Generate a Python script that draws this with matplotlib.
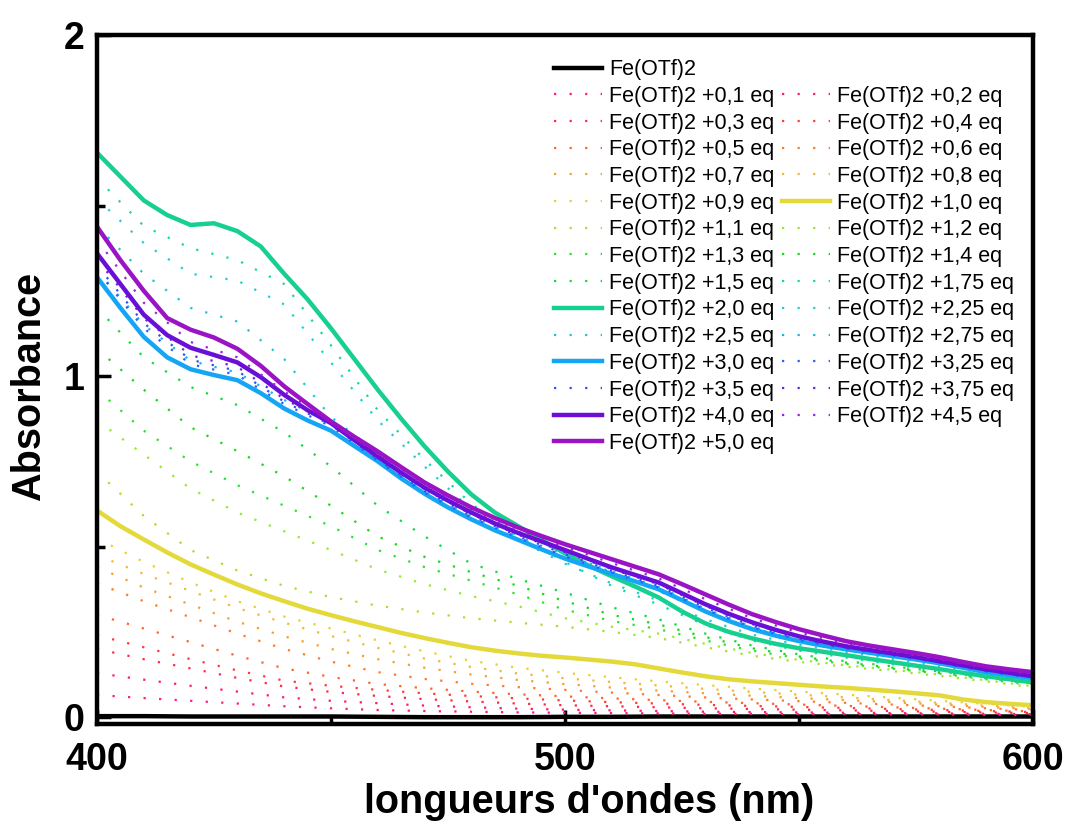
import matplotlib
matplotlib.use("Agg")
import matplotlib.pyplot as plt
from matplotlib.lines import Line2D

plt.rcParams['font.family'] = ['Liberation Sans', 'DejaVu Sans']

# wavelengths (nm): 10 nm grid for dotted series, 5 nm grid for the solid ones
wl = [400, 410, 420, 430, 440, 450, 460, 470, 480, 490, 500,
      510, 520, 530, 540, 550, 560, 570, 580, 590, 600]
wl5 = [400, 405, 410, 415, 420, 425, 430, 435, 440, 445, 450, 455, 460, 465,
       470, 475, 480, 485, 490, 495, 500, 505, 510, 515, 520, 525, 530, 535,
       540, 545, 550, 555, 560, 565, 570, 575, 580, 585, 590, 595, 600]

# absorbance per titration point
a_fe = [0.003, 0.003, 0.002, 0.002, 0.002, 0.002, 0.001, 0.000, 0.000, 0.000, 0.001,
        0.001, 0.002, 0.002, 0.002, 0.002, 0.002, 0.002, 0.002, 0.002, 0.002]
a_01 = [0.065, 0.056, 0.048, 0.040, 0.032, 0.026, 0.021, 0.018, 0.016, 0.014, 0.013,
        0.012, 0.011, 0.010, 0.010, 0.009, 0.009, 0.008, 0.008, 0.007, 0.007]
a_02 = [0.129, 0.110, 0.092, 0.075, 0.058, 0.048, 0.041, 0.034, 0.029, 0.025, 0.022,
        0.020, 0.018, 0.016, 0.015, 0.014, 0.013, 0.012, 0.011, 0.010, 0.009]
a_03 = [0.200, 0.170, 0.143, 0.115, 0.090, 0.074, 0.062, 0.053, 0.046, 0.040, 0.035,
        0.032, 0.029, 0.026, 0.024, 0.022, 0.020, 0.018, 0.016, 0.014, 0.012]
a_04 = [0.240, 0.205, 0.170, 0.137, 0.107, 0.092, 0.080, 0.070, 0.062, 0.055, 0.049,
        0.044, 0.040, 0.036, 0.033, 0.030, 0.027, 0.024, 0.021, 0.018, 0.015]
a_05 = [0.300, 0.260, 0.220, 0.180, 0.143, 0.118, 0.097, 0.085, 0.075, 0.067, 0.061,
        0.055, 0.050, 0.045, 0.041, 0.037, 0.033, 0.029, 0.025, 0.021, 0.017]
a_06 = [0.392, 0.340, 0.293, 0.245, 0.200, 0.163, 0.132, 0.112, 0.098, 0.088, 0.080,
        0.072, 0.065, 0.058, 0.052, 0.047, 0.042, 0.037, 0.032, 0.026, 0.021]
a_07 = [0.440, 0.380, 0.330, 0.280, 0.237, 0.200, 0.170, 0.145, 0.125, 0.109, 0.097,
        0.087, 0.078, 0.070, 0.063, 0.056, 0.050, 0.044, 0.037, 0.030, 0.024]
a_08 = [0.475, 0.420, 0.370, 0.320, 0.277, 0.238, 0.203, 0.172, 0.147, 0.128, 0.114,
        0.103, 0.093, 0.083, 0.074, 0.066, 0.058, 0.050, 0.042, 0.034, 0.027]
a_09 = [0.524, 0.455, 0.395, 0.340, 0.295, 0.260, 0.225, 0.193, 0.165, 0.145, 0.130,
        0.117, 0.105, 0.094, 0.084, 0.075, 0.066, 0.057, 0.048, 0.039, 0.030]
a_10 = [0.606, 0.560, 0.521, 0.483, 0.448, 0.418, 0.389, 0.363, 0.340, 0.318, 0.299,
        0.281, 0.264, 0.247, 0.232, 0.218, 0.205, 0.195, 0.187, 0.180, 0.175,
        0.169, 0.163, 0.155, 0.143, 0.131, 0.120, 0.111, 0.105, 0.100, 0.095,
        0.090, 0.086, 0.081, 0.076, 0.070, 0.064, 0.052, 0.044, 0.039, 0.035]
a_11 = [0.720, 0.590, 0.490, 0.430, 0.385, 0.352, 0.327, 0.307, 0.290, 0.277, 0.265,
        0.250, 0.232, 0.205, 0.180, 0.162, 0.148, 0.135, 0.121, 0.105, 0.088]
a_12 = [0.870, 0.770, 0.670, 0.600, 0.545, 0.490, 0.433, 0.390, 0.355, 0.325, 0.290,
        0.265, 0.245, 0.215, 0.188, 0.168, 0.152, 0.139, 0.125, 0.108, 0.091]
a_13 = [0.960, 0.840, 0.750, 0.680, 0.620, 0.560, 0.490, 0.440, 0.400, 0.360, 0.315,
        0.282, 0.258, 0.225, 0.195, 0.173, 0.156, 0.142, 0.128, 0.111, 0.094]
a_14 = [1.080, 0.960, 0.850, 0.780, 0.706, 0.620, 0.530, 0.470, 0.425, 0.385, 0.340,
        0.300, 0.272, 0.235, 0.202, 0.178, 0.160, 0.145, 0.130, 0.114, 0.097]
a_15 = [1.200, 1.055, 0.968, 0.915, 0.835, 0.735, 0.620, 0.530, 0.450, 0.405, 0.365,
        0.322, 0.287, 0.245, 0.210, 0.184, 0.164, 0.149, 0.134, 0.117, 0.100]
a_175 = [1.580, 1.440, 1.375, 1.340, 1.270, 1.090, 0.900, 0.755, 0.625, 0.530, 0.455,
         0.385, 0.330, 0.270, 0.225, 0.195, 0.175, 0.155, 0.135, 0.115, 0.098]
a_20 = [1.655, 1.585, 1.515, 1.472, 1.443, 1.448, 1.425, 1.380, 1.300, 1.225, 1.140,
        1.050, 0.960, 0.875, 0.794, 0.720, 0.653, 0.600, 0.560, 0.520, 0.480,
        0.445, 0.413, 0.383, 0.351, 0.310, 0.275, 0.250, 0.231, 0.215, 0.202,
        0.192, 0.182, 0.171, 0.161, 0.151, 0.141, 0.130, 0.120, 0.111, 0.102]
a_225 = [1.520, 1.390, 1.300, 1.280, 1.210, 1.040, 0.870, 0.735, 0.608, 0.520, 0.450,
         0.392, 0.342, 0.287, 0.242, 0.212, 0.191, 0.171, 0.149, 0.126, 0.107]
a_25 = [1.440, 1.300, 1.200, 1.160, 1.050, 0.880, 0.775, 0.690, 0.612, 0.545, 0.480,
        0.425, 0.370, 0.310, 0.262, 0.225, 0.200, 0.180, 0.158, 0.133, 0.112]
a_275 = [1.310, 1.150, 1.045, 1.010, 0.930, 0.862, 0.758, 0.663, 0.590, 0.530, 0.475,
         0.428, 0.382, 0.318, 0.265, 0.229, 0.204, 0.183, 0.161, 0.135, 0.116]
a_30 = [1.290, 1.200, 1.115, 1.055, 1.020, 1.003, 0.988, 0.950, 0.905, 0.870, 0.840,
        0.795, 0.750, 0.700, 0.655, 0.615, 0.580, 0.548, 0.520, 0.492, 0.465,
        0.442, 0.420, 0.398, 0.375, 0.343, 0.310, 0.282, 0.258, 0.239, 0.223,
        0.210, 0.199, 0.189, 0.179, 0.169, 0.158, 0.145, 0.132, 0.123, 0.114]
a_325 = [1.310, 1.140, 1.035, 1.003, 0.918, 0.853, 0.752, 0.658, 0.585, 0.526, 0.471,
         0.424, 0.380, 0.315, 0.263, 0.226, 0.201, 0.181, 0.160, 0.134, 0.115]
a_35 = [1.325, 1.155, 1.048, 1.015, 0.925, 0.857, 0.756, 0.663, 0.590, 0.531, 0.478,
        0.429, 0.385, 0.321, 0.268, 0.230, 0.203, 0.183, 0.161, 0.136, 0.117]
a_375 = [1.343, 1.170, 1.061, 1.027, 0.933, 0.861, 0.760, 0.668, 0.595, 0.535, 0.484,
         0.434, 0.390, 0.326, 0.273, 0.234, 0.206, 0.185, 0.163, 0.138, 0.118]
a_40 = [1.360, 1.270, 1.180, 1.120, 1.083, 1.062, 1.040, 0.997, 0.945, 0.900, 0.862,
        0.812, 0.764, 0.717, 0.673, 0.635, 0.600, 0.568, 0.540, 0.515, 0.490,
        0.464, 0.439, 0.417, 0.395, 0.363, 0.331, 0.303, 0.278, 0.256, 0.237,
        0.222, 0.208, 0.197, 0.187, 0.176, 0.164, 0.152, 0.140, 0.130, 0.120]
a_45 = [1.400, 1.215, 1.100, 1.055, 0.955, 0.866, 0.772, 0.681, 0.608, 0.548, 0.499,
        0.452, 0.407, 0.346, 0.290, 0.248, 0.216, 0.193, 0.170, 0.145, 0.126]
a_50 = [1.438, 1.340, 1.250, 1.170, 1.136, 1.113, 1.080, 1.030, 0.970, 0.918, 0.867,
        0.822, 0.779, 0.733, 0.688, 0.650, 0.615, 0.584, 0.556, 0.531, 0.507,
        0.485, 0.463, 0.441, 0.419, 0.390, 0.360, 0.330, 0.302, 0.279, 0.258,
        0.240, 0.223, 0.210, 0.199, 0.188, 0.176, 0.162, 0.149, 0.140, 0.132]

eqs = ["", "0,1", "0,2", "0,3", "0,4", "0,5", "0,6", "0,7", "0,8", "0,9", "1,0",
       "1,1", "1,2", "1,3", "1,4", "1,5", "1,75", "2,0", "2,25", "2,5", "2,75",
       "3,0", "3,25", "3,5", "3,75", "4,0", "4,5", "5,0"]
data = [a_fe, a_01, a_02, a_03, a_04, a_05, a_06, a_07, a_08, a_09, a_10,
        a_11, a_12, a_13, a_14, a_15, a_175, a_20, a_225, a_25, a_275,
        a_30, a_325, a_35, a_375, a_40, a_45, a_50]
colors = ["#000000", "#ff1a8c", "#ff1a6a", "#ff2a48", "#ff3a3a", "#ff6428", "#ff7a28",
          "#f5a030", "#f0b840", "#e8d030", "#e3d93a", "#a8e030", "#98e830", "#30e030",
          "#18d818", "#10dc40", "#10dca0", "#17d08f", "#20d0d0", "#20c4d4", "#20b0f0",
          "#14a6f4", "#2a5cff", "#2f50f5", "#6a20e8", "#6a10d6", "#a020e0", "#9a14c6"]
solid = {"", "1,0", "2,0", "3,0", "4,0", "5,0"}

fig = plt.figure(figsize=(10.68, 8.23), dpi=100)
ax = fig.add_axes([0.0908, 0.1203, 0.8764, 0.8372])

handles = {}
for eq, y, c in zip(eqs, data, colors):
    lab = "Fe(OTf)2" if eq == "" else f"Fe(OTf)2 +{eq} eq"
    x = wl5 if len(y) == len(wl5) else wl
    if eq in solid:
        h, = ax.plot(x, y, color=c, lw=3.2, label=lab)
    else:
        h, = ax.plot(x, y, color=c, lw=1.6, ls=(0, (1, 6)), label=lab)
    handles[eq] = h

ax.set_xlim(400, 600)
ax.set_ylim(-0.02, 2)
ax.set_xticks([400, 500, 600])
ax.set_xticks([450, 550], minor=True)
ax.set_yticks([0, 1, 2])
ax.set_yticks([0.5, 1.5], minor=True)
ax.tick_params(which="major", direction="in", length=10, width=2.5)
ax.tick_params(which="minor", direction="in", length=6, width=2.5)
ax.tick_params(axis="x", pad=13)
ax.tick_params(axis="y", pad=9)
for t in ax.get_xticklabels() + ax.get_yticklabels():
    t.set_fontweight("bold")
    t.set_fontsize(27)
for s in ax.spines.values():
    s.set_linewidth(3.2)

ax.set_xlabel("longueurs d'ondes (nm)", fontsize=28.5, fontweight="bold")
ax.xaxis.set_label_coords(0.526, -0.085)
ax.set_ylabel("Absorbance", fontsize=28.5, fontweight="bold")
ax.yaxis.set_label_coords(-0.052, 0.49)

# legend laid out row-wise, filled column-wise with blanks
blank = Line2D([], [], ls="none")
left = ["", "0,1", "0,3", "0,5", "0,7", "0,9", "1,1", "1,3", "1,5", "2,0", "2,5", "3,0", "3,5", "4,0", "5,0"]
right = [None, "0,2", "0,4", "0,6", "0,8", "1,0", "1,2", "1,4", "1,75", "2,25", "2,75", "3,25", "3,75", "4,5", None]
hs, ls = [], []
for col in (left, right):
    for eq in col:
        if eq is None:
            hs.append(blank); ls.append("")
        else:
            hs.append(handles[eq]); ls.append(handles[eq].get_label())
ax.legend(hs, ls, ncol=2, loc="upper left", bbox_to_anchor=(0.488, 0.965), frameon=False,
          fontsize=15.5, handlelength=2.23, handletextpad=0.33, columnspacing=0.37,
          labelspacing=0.265, borderpad=0, borderaxespad=0)

fig.savefig("out.png", dpi=100)
